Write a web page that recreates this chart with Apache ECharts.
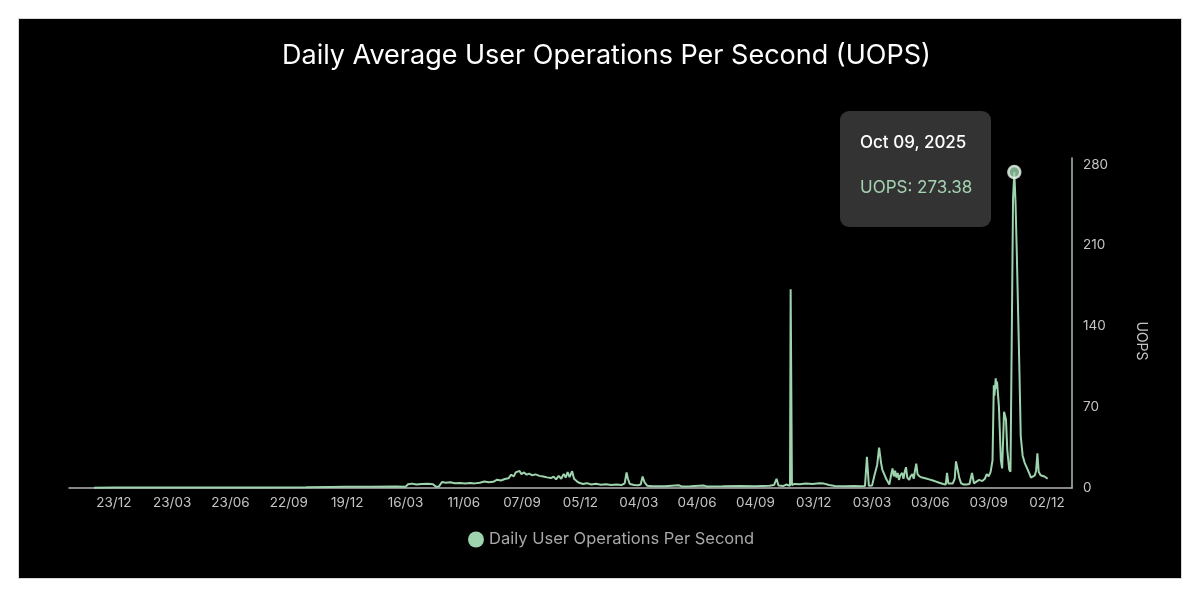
<!DOCTYPE html>
<html>
<head>
<meta charset="utf-8">
<script src="https://cdn.jsdelivr.net/npm/echarts@6/dist/echarts.min.js"></script>
<style>
  html, body { margin: 0; padding: 0; background: #fff; }
  #chart {
    position: absolute; left: 18px; top: 18px;
    width: 1164px; height: 561px;
    background: #000; box-sizing: border-box; border: 1px solid #d8d8d8;
  }
</style>
</head>
<body>
<div id="chart"></div>
<script>
// x positions are day slots; labels sit every 91 slots
const TICK_X = [0, 91, 182, 273, 364, 455, 546, 637, 728, 819, 910, 1001, 1092, 1183, 1274, 1365, 1456];
const TICK_LABELS = ['23/12', '23/03', '23/06', '22/09', '19/12', '16/03', '11/06', '07/09', '05/12',
  '04/03', '04/06', '04/09', '03/12', '03/03', '03/06', '03/09', '02/12'];
const Y_TICKS = [0, 70, 140, 210, 280];

const X_DAY = [
  -31, 0, 60, 120, 180, 240, 300, 338, 360, 400, 440, 455, 459, 465, 472, 480, 490, 498, 503, 507,
  512, 518, 525, 532, 540, 548, 556, 563, 571, 578, 585, 592, 598, 604, 610, 616, 620, 624, 627, 630,
  633, 636, 640, 644, 648, 653, 658, 664, 670, 676, 682, 686, 690, 694, 698, 702, 705, 708, 711, 715,
  718, 722, 726, 732, 738, 745, 752, 760, 768, 776, 784, 792, 797, 800, 802, 805, 812, 818, 822, 825,
  828, 832, 840, 860, 881, 886, 900, 920, 925, 950, 976, 1000, 1023, 1030, 1034, 1037, 1045, 1049, 1052, 1055,
  1056, 1058, 1062, 1070, 1080, 1090, 1101, 1108, 1116, 1125, 1140, 1155, 1165, 1172, 1175, 1178, 1183, 1187, 1191, 1194,
  1197, 1199, 1202, 1205, 1207, 1210, 1213, 1215, 1217, 1219, 1221, 1223, 1225, 1227, 1230, 1232, 1234, 1236, 1238, 1241,
  1243, 1246, 1248, 1250, 1252, 1254, 1257, 1261, 1266, 1272, 1278, 1283, 1288, 1294, 1298, 1300, 1302, 1305, 1309, 1312,
  1314, 1317, 1319, 1322, 1326, 1330, 1335, 1339, 1342, 1346, 1350, 1355, 1359, 1362, 1365, 1368, 1371, 1373, 1374, 1376,
  1377, 1378, 1381, 1384, 1386, 1389, 1392, 1394, 1397, 1399, 1401, 1403, 1405, 1407, 1409, 1411, 1413, 1415, 1418, 1421,
  1425, 1428, 1431, 1434, 1437, 1439, 1441, 1443, 1446, 1449, 1452, 1455, 1457
];
const UOPS = [
  0.3, 0.4, 0.4, 0.5, 0.4, 0.5, 0.6, 0.9, 1.0, 1.1, 1.2, 1.0, 3.2, 3.8, 3.0, 3.5, 3.6, 3.2, 1.0, 1.2,
  5.2, 4.6, 5.0, 4.2, 4.4, 3.8, 4.3, 4.0, 4.5, 5.6, 5.0, 5.4, 7.2, 6.5, 7.8, 8.5, 11.5, 10, 13.5, 11.8,
  14.8, 12.0, 13.5, 11.5, 12.5, 11.0, 11.8, 10.5, 10.0, 9.2, 8.6, 9.8, 7.5, 10.5, 8.0, 12.2, 9.0, 13.8, 9.5, 14.5,
  8.0, 6.0, 4.5, 3.5, 4.2, 3.0, 3.6, 2.8, 3.2, 2.6, 3.0, 2.5, 4.0, 13.5, 8.0, 3.5, 2.6, 2.4, 3.0, 10.0,
  5.0, 2.0, 1.6, 1.5, 2.4, 1.4, 1.5, 2.2, 1.4, 1.5, 1.8, 1.5, 2.0, 2.5, 8.0, 2.2, 1.8, 3.0, 1.8, 2.0,
  172, 2.5, 3.5, 3.2, 3.8, 3.5, 4.2, 3.8, 2.6, 1.8, 1.6, 1.7, 1.6, 1.8, 27, 2.0, 2.2, 11.5, 20, 35,
  22, 16, 12, 8, 6, 3, 12, 17, 10, 15, 9, 13, 7, 11, 13, 8, 14, 18, 9, 7,
  10, 12, 8, 15, 21, 12, 10, 9, 8.5, 7.5, 6.5, 5.5, 4.5, 3.5, 3, 13, 4, 3.5, 4, 8,
  23, 15, 9, 4, 3, 3, 3.5, 13, 4, 5.5, 7, 6, 8, 12, 10, 14, 24, 89, 80, 95,
  86, 92, 70, 24, 17, 66, 59, 33, 16, 14, 130, 250, 273.38, 245, 200, 150, 100, 45, 28, 22,
  17, 13, 9, 9.5, 11, 15, 30, 14, 11, 12, 10, 9, 8
];
const TIP_DATES = { 1405: 'Oct 09, 2025' };

const LINE = '#9dd4ae';
const FONT = "Inter, 'Noto Sans', sans-serif";

const chart = echarts.init(document.getElementById('chart'), null, { renderer: 'canvas' });
const peakI = UOPS.indexOf(Math.max(...UOPS));

chart.setOption({
  animation: false,
  backgroundColor: 'transparent',
  textStyle: { fontFamily: FONT },
  title: {
    text: 'Daily Average User Operations Per Second (UOPS)',
    left: 258,
    top: 18,
    textStyle: { color: '#fff', fontSize: 27, fontWeight: 'normal', fontFamily: FONT },
  },
  legend: {
    data: ['Daily User Operations Per Second'],
    left: 444,
    top: 507,
    icon: 'circle',
    itemWidth: 16,
    itemHeight: 16,
    itemGap: 6,
    textStyle: { color: '#a8a8a8', fontSize: 16.5, fontFamily: FONT },
  },
  tooltip: {
    trigger: 'item',
    triggerOn: 'none',
    alwaysShowContent: true,
    position: [821, 92],
    backgroundColor: '#333',
    borderWidth: 0,
    padding: [20, 20],
    transitionDuration: 0,
    extraCssText: 'box-shadow:none;border-radius:9px;width:151px;height:116px;box-sizing:border-box;',
    formatter: (p) =>
      `<div style="font-family:${FONT};font-size:17px;font-weight:500;color:#fff;line-height:22px">${TIP_DATES[p.value[0]] ?? ''}</div>` +
      `<div style="font-family:${FONT};font-size:17px;font-weight:400;color:#a6d4b3;line-height:22px;margin-top:23px">UOPS: ${p.value[1]}</div>`,
  },
  grid: { left: 50, right: 109, top: 139, bottom: 90 },
  xAxis: {
    type: 'value',
    min: -70,
    max: 1495,
    axisLine: { show: true, onZero: false, lineStyle: { color: '#b4b4b4', width: 1.5 } },
    axisTick: { show: false },
    splitLine: { show: false },
    axisLabel: {
      customValues: TICK_X,
      formatter: (v) => TICK_LABELS[TICK_X.indexOf(v)] ?? '',
      color: '#c4c4c4',
      fontSize: 13.5,
      margin: 8,
    },
  },
  yAxis: {
    type: 'value',
    position: 'right',
    min: 0,
    max: 285.6,
    axisLine: { show: true, onZero: false, lineStyle: { color: '#a9c2b0', width: 1.5 } },
    axisTick: { show: false },
    splitLine: { show: false },
    axisLabel: { customValues: Y_TICKS, color: '#c4c4c4', fontSize: 13.5, margin: 11 },
  },
  graphic: [{
    type: 'text',
    x: 1122,
    y: 322,
    rotation: -Math.PI / 2,
    style: {
      text: 'UOPS', fill: '#c4c4c4', font: `14px ${FONT}`,
      align: 'center', verticalAlign: 'middle',
    },
  }],
  series: [
    {
      name: 'Daily User Operations Per Second',
      type: 'line',
      data: X_DAY.map((x, i) => [x, UOPS[i]]),
      showSymbol: false,
      symbol: 'circle',
      lineStyle: { color: LINE, width: 2 },
      itemStyle: { color: LINE },
      tooltip: { show: false },
    },
    {
      name: 'peak',
      type: 'scatter',
      data: [[X_DAY[peakI], UOPS[peakI]]],
      symbolSize: 12,
      itemStyle: { color: LINE, borderColor: '#eef7f0', borderWidth: 2.5 },
      z: 5,
    },
  ],
});

chart.dispatchAction({ type: 'showTip', seriesIndex: 1, dataIndex: 0 });
</script>
</body>
</html>
